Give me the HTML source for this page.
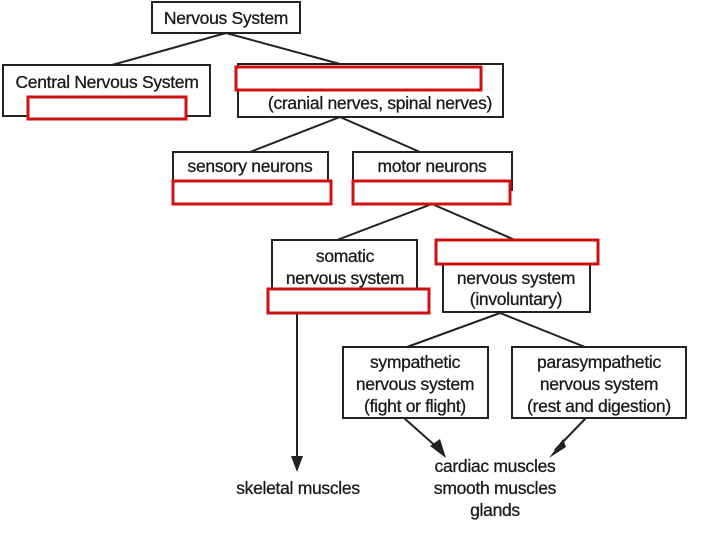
<!DOCTYPE html>
<html><head><style>
html,body{margin:0;padding:0;background:#fff;width:720px;height:540px;overflow:hidden}
text{font-family:"Liberation Sans",sans-serif;font-size:17.5px;fill:#1a1a1a;stroke:#1a1a1a;stroke-width:0.3;text-anchor:middle;letter-spacing:-0.3px}
</style></head><body>
<svg width="720" height="540" viewBox="0 0 720 540" xmlns="http://www.w3.org/2000/svg">
<g fill="none" stroke="#222" stroke-width="2">
<rect x="152" y="2" width="148" height="31"/>
<rect x="3" y="65" width="207" height="51"/>
<rect x="238" y="64" width="265" height="53"/>
<rect x="173" y="152" width="155" height="38"/>
<rect x="353" y="152" width="159" height="38"/>
<rect x="272" y="240" width="145" height="50"/>
<rect x="443" y="240" width="147" height="72"/>
<rect x="343" y="347" width="145" height="71"/>
<rect x="512" y="347" width="174" height="71"/>
<path d="M226 33 L112 65 M226 33 L340 64 M340 117 L250 152 M340 117 L420 152 M432 204 L337 240 M432 204 L515 240 M500 313 L407 347 M500 313 L585 347"/>
<path d="M297 313 L297 466 M404 418 L440 450 M586 418 L555 450"/>
</g>
<g fill="#222">
<path d="M291 456 L297 472 L303 456 Z"/>
<path d="M430 446 L446 458 L440 439 Z"/>
<path d="M563 439 L549 458 L566 447 Z"/>
</g>
<g fill="#fff" stroke="#d01010" stroke-width="3">
<rect x="28" y="97" width="158" height="22"/>
<rect x="236" y="67" width="245" height="23"/>
<rect x="173" y="181" width="158" height="23"/>
<rect x="353" y="181" width="157" height="23"/>
<rect x="436" y="240" width="162" height="24"/>
<rect x="268" y="289" width="161" height="24"/>
</g>
<text x="226" y="24">Nervous System</text>
<text x="107" y="88">Central Nervous System</text>
<text x="380" y="109">(cranial nerves, spinal nerves)</text>
<text x="250" y="172">sensory neurons</text>
<text x="432" y="172">motor neurons</text>
<text x="345" y="262">somatic</text>
<text x="345" y="284">nervous system</text>
<text x="516" y="284">nervous system</text>
<text x="516" y="305">(involuntary)</text>
<text x="415" y="368">sympathetic</text>
<text x="415" y="390">nervous system</text>
<text x="415" y="412">(fight or flight)</text>
<text x="599" y="368">parasympathetic</text>
<text x="599" y="390">nervous system</text>
<text x="599" y="412">(rest and digestion)</text>
<text x="298" y="494">skeletal muscles</text>
<text x="495" y="472">cardiac muscles</text>
<text x="495" y="494">smooth muscles</text>
<text x="495" y="516">glands</text>
</svg>
</body></html>
